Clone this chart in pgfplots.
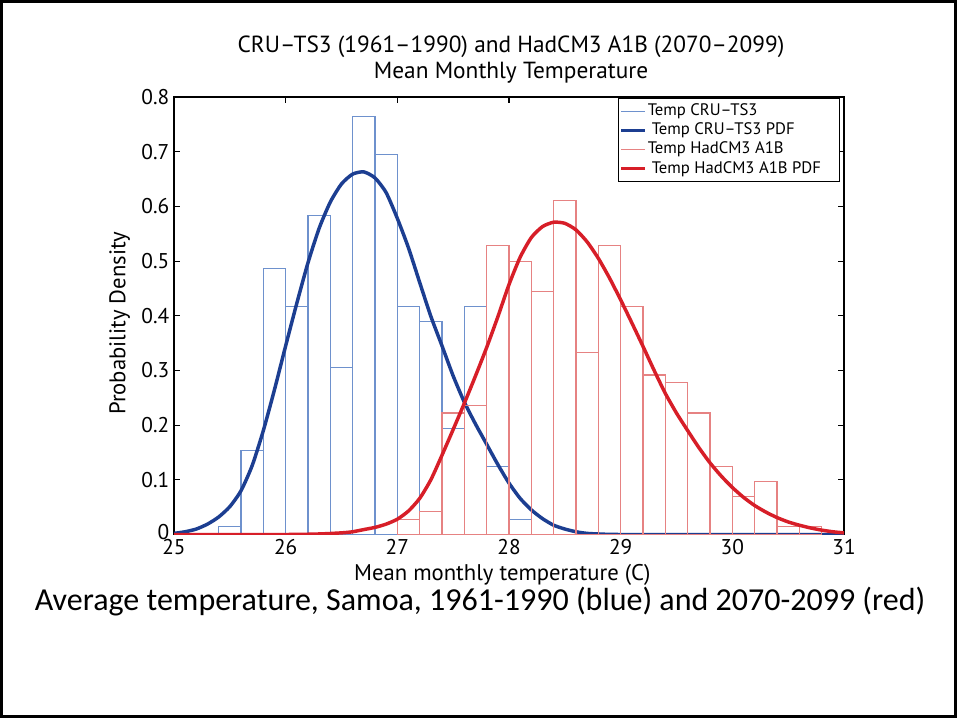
\documentclass[border=0pt]{standalone}
\usepackage{pgfplots}
\pgfplotsset{compat=1.18}
\usepackage{fontspec}
\setmainfont{PT Sans}
\newfontfamily\capfont{Carlito}
\definecolor{barblue}{RGB}{110,145,205}
\definecolor{barred}{RGB}{230,130,130}
\definecolor{pdfblue}{RGB}{28,62,145}
\definecolor{pdfred}{RGB}{215,30,40}
\begin{document}
\begin{tikzpicture}
\useasboundingbox (0,0) rectangle (717.75pt,538.5pt);
\fill[white] (0,0) rectangle (717.75pt,538.5pt);
\draw[line width=2.5pt] (1.25pt,1.25pt) rectangle (716.5pt,537.25pt);
\begin{axis}[
  at={(130.5pt,137.625pt)}, anchor=south west,
  width=502.5pt, height=328.125pt, scale only axis,
  xmin=25, xmax=31, ymin=0, ymax=0.8,
  xtick={25,26,27,28,29,30,31},
  ytick={0,0.1,0.2,0.3,0.4,0.5,0.6,0.7,0.8},
  yticklabels={\raisebox{3.5pt}{0},0.1,0.2,0.3,0.4,0.5,0.6,0.7,0.8},
  tick align=inside, tick pos=both, major tick length=4.5pt,
  axis line style={line width=1.1pt},
  every tick/.style={black, line width=0.8pt},
  /pgf/number format/assume math mode=true,
  xticklabel style={font=\fontsize{16}{18}\selectfont},
  yticklabel style={font=\fontsize{16}{18}\selectfont},
  xlabel={Mean monthly temperature (C)},
  ylabel={Probability Density},
  xlabel style={font=\fontsize{17}{19}\selectfont, at={(axis description cs:0.49,-0.092)}, anchor=center},
  ylabel style={font=\fontsize{17}{19}\selectfont, at={(axis description cs:-0.081,0.483)}, anchor=center, rotate=0},
  legend style={at={(0.994,0.998)}, anchor=north east, draw=black, line width=0.9pt,
    font=\fontsize{12.5}{13}\selectfont, inner xsep=1pt, inner ysep=2.5pt, row sep=0.5pt,
    nodes={text height=9pt, text depth=2.5pt, inner sep=1.2pt}},
  legend cell align=left,
  legend image code/.code={\draw[#1] (0cm,0cm) -- (0.62cm,0cm);},
]
% CRU-TS3 histogram (bin left edges)
\addplot[ybar interval, draw=barblue, line width=0.8pt, fill=none, forget plot] coordinates {
(25.4,0.0139) (25.6,0.1528) (25.8,0.4861) (26.0,0.4167) (26.2,0.5833) (26.4,0.3056)
(26.6,0.7639) (26.8,0.6944) (27.0,0.4167) (27.2,0.3889) (27.4,0.1944) (27.6,0.4167)
(27.8,0.125) (28.0,0.0278) (28.2,0)};
% CRU-TS3 PDF
\addplot[pdfblue, line width=2.6pt, smooth, tension=0.4, forget plot] coordinates {
(25.0,0.002) (25.1,0.005) (25.2,0.010) (25.3,0.019) (25.4,0.032) (25.5,0.051)
(25.6,0.080) (25.7,0.126) (25.8,0.190) (25.9,0.265) (26.0,0.345) (26.1,0.423)
(26.2,0.497) (26.3,0.560) (26.4,0.608) (26.5,0.641) (26.6,0.659) (26.7,0.663)
(26.8,0.652) (26.9,0.625) (27.0,0.578) (27.1,0.524) (27.2,0.461) (27.3,0.399)
(27.4,0.345) (27.5,0.290) (27.6,0.242) (27.7,0.202) (27.8,0.165) (27.9,0.128)
(28.0,0.094) (28.1,0.066) (28.2,0.045) (28.3,0.029) (28.4,0.017) (28.5,0.010)
(28.6,0.005) (28.7,0.002) (28.8,0.001) (29.0,0) (30.0,0) (31.0,0)};
% HadCM3 A1B histogram
\addplot[ybar interval, draw=barred, line width=0.8pt, fill=none, forget plot] coordinates {
(27.0,0.0278) (27.2,0.0417) (27.4,0.2222) (27.6,0.2361) (27.8,0.5278) (28.0,0.5)
(28.2,0.4444) (28.4,0.6111) (28.6,0.3333) (28.8,0.5278) (29.0,0.4167) (29.2,0.2917)
(29.4,0.2778) (29.6,0.2222) (29.8,0.125) (30.0,0.0694) (30.2,0.0972) (30.4,0.0139)
(30.6,0.0139) (30.8,0)};
% HadCM3 A1B PDF
\addplot[pdfred, line width=2.6pt, smooth, tension=0.4, forget plot] coordinates {
(25.0,0) (26.0,0) (26.3,0.001) (26.5,0.003) (26.6,0.005) (26.7,0.009) (26.8,0.013)
(26.9,0.019) (27.0,0.028) (27.1,0.043) (27.2,0.066) (27.3,0.100) (27.4,0.145)
(27.5,0.192) (27.6,0.240) (27.7,0.290) (27.8,0.342) (27.9,0.398) (28.0,0.457)
(28.1,0.507) (28.2,0.543) (28.3,0.563) (28.4,0.571) (28.5,0.569) (28.6,0.557)
(28.7,0.535) (28.8,0.505) (28.9,0.469) (29.0,0.429) (29.1,0.387) (29.2,0.344)
(29.3,0.300) (29.4,0.258) (29.5,0.222) (29.6,0.190) (29.7,0.159) (29.8,0.131)
(29.9,0.107) (30.0,0.086) (30.1,0.068) (30.2,0.053) (30.3,0.041) (30.4,0.031)
(30.5,0.023) (30.6,0.017) (30.7,0.012) (30.8,0.008) (30.9,0.005) (31.0,0.003)};
\addlegendimage{barblue, line width=0.8pt}
\addlegendentry{Temp CRU--TS3}
\addlegendimage{pdfblue, line width=2.4pt}
\addlegendentry{\hspace{3pt}Temp CRU--TS3 PDF}
\addlegendimage{barred, line width=0.8pt}
\addlegendentry{Temp HadCM3 A1B}
\addlegendimage{pdfred, line width=2.4pt}
\addlegendentry{\makebox[141.5pt][l]{\hspace{3pt}Temp HadCM3 A1B PDF}}
\end{axis}
\node[anchor=base, font=\fontsize{17.5}{20}\selectfont] at (383.25pt,498.75pt) {CRU--TS3 (1961--1990) and HadCM3 A1B (2070--2099)};
\node[anchor=base, font=\fontsize{17.5}{20}\selectfont] at (383.25pt,479.25pt) {Mean Monthly Temperature};
\node[anchor=base, font=\capfont\fontsize{24}{28}\selectfont] at (360pt,80.5pt) {Average temperature, Samoa, 1961-1990 (blue) and 2070-2099 (red)};
\end{tikzpicture}
\end{document}
